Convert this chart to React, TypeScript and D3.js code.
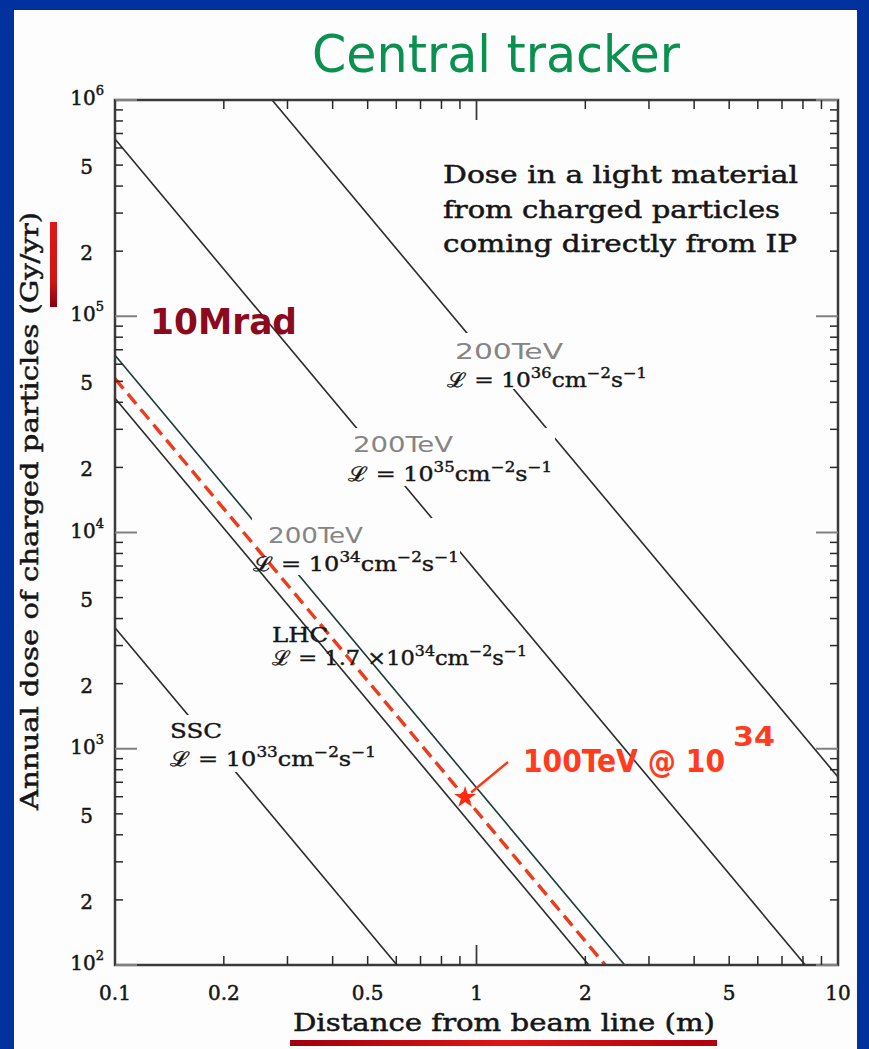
import React from "react";
import * as d3 from "d3";

const W = 869;
const H = 1049;

const seriesNames = ["200TeV 1e36", "200TeV 1e35", "200TeV 1e34", "LHC 1.7e34", "100TeV 1e34", "SSC 1e33"];
const seriesStart = [[0.272, 1e6], [0.1, 6.6e5], [0.1, 6.6e4], [0.1, 4.18e4], [0.1, 5.15e4], [0.1, 3630]];
const seriesEnd = [[10, 740], [8.12, 100], [2.57, 100], [2.045, 100], [2.27, 100], [0.6025, 100]];
const seriesDashed = [false, false, false, false, true, false];

const xTickValues = [0.1, 0.2, 0.5, 1, 2, 5, 10];
const xTickLabels = ["0.1", "0.2", "0.5", "1", "2", "5", "10"];
const yTickValues = [1e2, 2e2, 5e2, 1e3, 2e3, 5e3, 1e4, 2e4, 5e4, 1e5, 2e5, 5e5, 1e6];
const yTickBase = ["10", "2", "5", "10", "2", "5", "10", "2", "5", "10", "2", "5", "10"];
const yTickExp = ["2", "", "", "3", "", "", "4", "", "", "5", "", "", "6"];

const starPoint = [0.93, 595];

const x = d3.scaleLog().domain([0.1, 10]).range([115, 838]);
const y = d3.scaleLog().domain([100, 1e6]).range([965, 100]);

const serif = "'DejaVu Serif', 'Liberation Serif', serif";
const hand = "'DejaVu Sans Condensed', 'DejaVu Sans', sans-serif";
const ink = "#161616";

function Formula(props: { x: number; y: number; pre: string; exp: string; width: number }) {
  const sup = 14;
  return (
    <text
      x={props.x}
      y={props.y}
      fontFamily={serif}
      fontSize={20}
      fill={ink}
      stroke={ink}
      strokeWidth={0.4}
      textLength={props.width}
      lengthAdjust="spacingAndGlyphs"
    >
      {props.pre}
      <tspan dy={-9} fontSize={sup}>{props.exp}</tspan>
      <tspan dy={9}>cm</tspan>
      <tspan dy={-9} fontSize={sup}>{"\u22122"}</tspan>
      <tspan dy={9}>s</tspan>
      <tspan dy={-9} fontSize={sup}>{"\u22121"}</tspan>
    </text>
  );
}

export default function App() {
  const [x0, x1] = x.range();
  const [y0, y1] = y.range(); // y0 bottom, y1 top

  const line = d3
    .line<number[]>()
    .x((d) => x(d[0]))
    .y((d) => y(d[1]));

  const minorX: number[] = [];
  [0.1, 1].forEach((dec) => {
    for (let m = 2; m <= 9; m++) minorX.push(dec * m);
  });
  const minorY: number[] = [];
  [1e2, 1e3, 1e4, 1e5].forEach((dec) => {
    for (let m = 2; m <= 9; m++) minorY.push(dec * m);
  });
  const majorX = [0.1, 1, 10];
  const majorY = [1e2, 1e3, 1e4, 1e5, 1e6];

  const starPath = d3.symbol().type(d3.symbolStar).size(150)();

  const back = [0, 1, 2, 5];
  const front = [3, 4];

  const renderSeries = (i: number) => (
    <path
      key={seriesNames[i]}
      d={line([seriesStart[i], seriesEnd[i]]) || ""}
      fill="none"
      stroke={seriesDashed[i] ? "#ef3a1c" : i === 2 ? "#1d3838" : "#2a2a2a"}
      strokeWidth={seriesDashed[i] ? 3.4 : 1.6}
      strokeDasharray={seriesDashed[i] ? "13 7" : undefined}
    />
  );

  return (
    <svg width={W} height={H} style={{ position: "absolute", left: 0, top: 0 }}>
      <defs>
        <clipPath id="plot">
          <rect x={x0} y={y1} width={x1 - x0} height={y0 - y1} />
        </clipPath>
        <linearGradient id="ul" x1="0" x2="1" y1="0" y2="0">
          <stop offset="0" stopColor="#a00010" />
          <stop offset="0.5" stopColor="#e01515" />
          <stop offset="1" stopColor="#b00010" />
        </linearGradient>
        <linearGradient id="vl" x1="0" x2="0" y1="0" y2="1">
          <stop offset="0" stopColor="#e01818" />
          <stop offset="0.7" stopColor="#d01515" />
          <stop offset="1" stopColor="#8a0010" />
        </linearGradient>
      </defs>
      <rect x={0} y={0} width={W} height={H} fill="#00319c" />
      <rect x={14} y={10} width={843} height={H - 10} fill="#fdfdfd" />

      {/* title */}
      <text
        x={496}
        y={72}
        textAnchor="middle"
        fontFamily={hand}
        fontSize={52}
        fill="#0a9150"
        textLength={368}
        lengthAdjust="spacingAndGlyphs"
      >
        Central tracker
      </text>

      <g clipPath="url(#plot)">
        {back.map(renderSeries)}
        {/* label backgrounds that interrupt the lines */}
        <rect x={450} y={333} width={200} height={56} fill="#fdfdfd" />
        <rect x={350} y={428} width={205} height={58} fill="#fdfdfd" />
        <rect x={252} y={518} width={208} height={57} fill="#fdfdfd" />
        <rect x={165} y={715} width={215} height={57} fill="#fdfdfd" />
        {front.map(renderSeries)}
      </g>

      {/* frame and ticks */}
      <rect x={x0} y={y1} width={x1 - x0} height={y0 - y1} fill="none" stroke="#3a3a3a" strokeWidth={2.5} />
      {minorY.map((v) => (
        <g key={"my" + v} stroke="#2a2a2a" strokeWidth={1.5}>
          <line x1={x0} x2={x0 + 8} y1={y(v)} y2={y(v)} />
          <line x1={x1 - 8} x2={x1} y1={y(v)} y2={y(v)} />
        </g>
      ))}
      {majorY.map((v) => (
        <g key={"My" + v} stroke="#808080" strokeWidth={2}>
          <line x1={x0} x2={x0 + 22} y1={y(v)} y2={y(v)} />
          <line x1={x1 - 22} x2={x1} y1={y(v)} y2={y(v)} />
        </g>
      ))}
      {minorX.map((v) => (
        <g key={"mx" + v} stroke="#2a2a2a" strokeWidth={1.5}>
          <line x1={x(v)} x2={x(v)} y1={y0} y2={y0 - 9} />
          <line x1={x(v)} x2={x(v)} y1={y1} y2={y1 + 9} />
        </g>
      ))}
      {majorX.map((v) => (
        <g key={"Mx" + v} stroke="#3a3a3a" strokeWidth={1.8}>
          <line x1={x(v)} x2={x(v)} y1={y0} y2={y0 - 20} />
          <line x1={x(v)} x2={x(v)} y1={y1} y2={y1 + 20} />
        </g>
      ))}

      {/* tick labels */}
      <g fill={ink} stroke={ink} strokeWidth={0.5} fontFamily={serif} fontSize={20}>
        {xTickValues.map((v, i) => (
          <text key={"xl" + v} x={x(v)} y={1000} textAnchor="middle">
            {xTickLabels[i]}
          </text>
        ))}
        {yTickValues.map((v, i) =>
          yTickExp[i] ? (
            <text key={"yl" + v} x={104} y={y(v) + 5} textAnchor="end">
              {yTickBase[i]}
              <tspan dy={-10} fontSize={13}>
                {yTickExp[i]}
              </tspan>
            </text>
          ) : (
            <text key={"yl" + v} x={93} y={y(v) + 9} textAnchor="end">
              {yTickBase[i]}
            </text>
          )
        )}
      </g>

      {/* axis titles */}
      <text
        transform="translate(38,511) rotate(-90)"
        textAnchor="middle"
        fontFamily={serif}
        fontSize={24}
        fill={ink}
        stroke={ink}
        strokeWidth={0.5}
        textLength={598}
        lengthAdjust="spacingAndGlyphs"
      >
        Annual dose of charged particles (Gy/yr)
      </text>
      <rect x={50} y={222} width={7} height={85} fill="url(#vl)" />
      <text
        x={504}
        y={1031}
        textAnchor="middle"
        fontFamily={serif}
        fontSize={24}
        fill={ink}
        stroke={ink}
        strokeWidth={0.5}
        textLength={422}
        lengthAdjust="spacingAndGlyphs"
      >
        Distance from beam line (m)
      </text>
      <rect x={290} y={1040} width={427} height={6} fill="url(#ul)" />

      {/* description */}
      <g fontFamily={serif} fontSize={24} fill={ink} stroke={ink} strokeWidth={0.5}>
        <text x={443} y={183} textLength={355} lengthAdjust="spacingAndGlyphs">
          Dose in a light material
        </text>
        <text x={443} y={218} textLength={337} lengthAdjust="spacingAndGlyphs">
          from charged particles
        </text>
        <text x={443} y={252} textLength={354} lengthAdjust="spacingAndGlyphs">
          coming directly from IP
        </text>
      </g>

      {/* line labels */}
      <g fontFamily={hand} fontSize={21} fill="#858585">
        <text x={455} y={359} textLength={108} lengthAdjust="spacingAndGlyphs">200TeV</text>
        <text x={353} y={452} textLength={100} lengthAdjust="spacingAndGlyphs">200TeV</text>
        <text x={268} y={543} textLength={95} lengthAdjust="spacingAndGlyphs">200TeV</text>
      </g>
      <Formula x={447} y={387} pre={"\u2112 = 10"} exp="36" width={200} />
      <Formula x={348} y={481} pre={"\u2112 = 10"} exp="35" width={204} />
      <Formula x={253} y={571} pre={"\u2112 = 10"} exp="34" width={206} />
      <text x={272} y={642} fontFamily={serif} fontSize={20} fill={ink} stroke={ink} strokeWidth={0.4} textLength={56} lengthAdjust="spacingAndGlyphs">
        LHC
      </text>
      <Formula x={272} y={665} pre={"\u2112 = 1.7 \u00d710"} exp="34" width={255} />
      <text x={170} y={738} fontFamily={serif} fontSize={20} fill={ink} stroke={ink} strokeWidth={0.4} textLength={52} lengthAdjust="spacingAndGlyphs">
        SSC
      </text>
      <Formula x={170} y={766} pre={"\u2112 = 10"} exp="33" width={206} />

      {/* handwritten annotations */}
      <text
        x={150}
        y={334}
        fontFamily={hand}
        fontSize={36}
        fontWeight="bold"
        fill="#8c0a1e"
        textLength={147}
        lengthAdjust="spacingAndGlyphs"
      >
        10Mrad
      </text>
      <g fontFamily={hand} fontWeight="bold" fill="#ff3c1e">
        <text x={523} y={772} fontSize={32} textLength={202} lengthAdjust="spacingAndGlyphs">
          100TeV @ 10
        </text>
        <text x={733} y={746} fontSize={26} textLength={42} lengthAdjust="spacingAndGlyphs">34</text>
      </g>
      <line x1={508} y1={762} x2={x(starPoint[0]) + 6} y2={y(starPoint[1]) - 5} stroke="#ff3a1a" strokeWidth={2.5} />
      <path d={starPath || ""} transform={`translate(${x(starPoint[0])},${y(starPoint[1])})`} fill="#ff2a10" />
    </svg>
  );
}
